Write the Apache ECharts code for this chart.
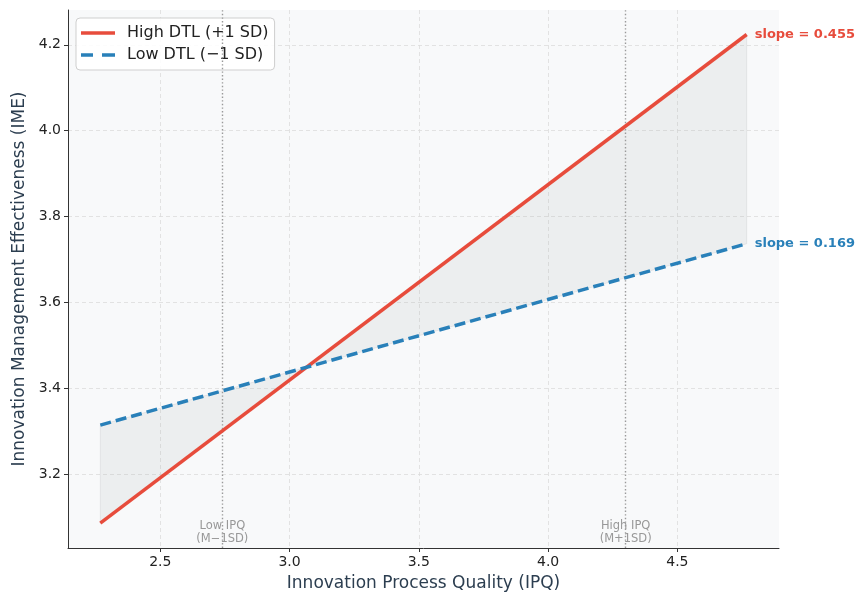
<!DOCTYPE html>
<html><head><meta charset="utf-8">
<script src="https://cdn.jsdelivr.net/npm/echarts@6/dist/echarts.min.js"></script>
<style>html,body{margin:0;padding:0;background:#fff}#c{width:856px;height:597px}</style>
</head><body><div id="c"></div>
<script>
// ---- data ----
const ipqRange = [2.268, 4.768];           // x extent of the simple slopes
const highDTL = [3.087, 4.224];            // IME at ipqRange for High DTL
const lowDTL = [3.315, 3.737];             // IME at ipqRange for Low DTL
const slopes = [0.455, 0.169];
const seriesNames = ['High DTL (+1 SD)', 'Low DTL (\u22121 SD)'];
const refLines = [2.74, 4.30];
const refLabels = ['Low IPQ\n(M\u22121SD)', 'High IPQ\n(M+1SD)'];
const xTicks = [2.5, 3.0, 3.5, 4.0, 4.5];
const yTicks = [3.2, 3.4, 3.6, 3.8, 4.0, 4.2];

const FONT = 'DejaVu Sans';
const X_MIN = 2.143, X_MAX = 4.893, Y_MIN = 3.029, Y_MAX = 4.281;
const RED = '#e74c3c', BLUE = '#2980b9';

const highData = ipqRange.map((x, i) => [x, highDTL[i]]);
const lowData = ipqRange.map((x, i) => [x, lowDTL[i]]);

const chart = echarts.init(document.getElementById('c'), null, {renderer: 'canvas'});
chart.setOption({
  animation: false,
  textStyle: {fontFamily: FONT},
  grid: {left: 68, right: 77, top: 10, bottom: 49, show: true, backgroundColor: '#f8f9fa', borderWidth: 0},
  legend: {
    data: [
      {name: seriesNames[0], icon: 'path://M0,0H34V3H0Z'},
      {name: seriesNames[1], icon: 'path://M0,0H12V3H0Z M21,0H34V3H21Z'}
    ],
    orient: 'vertical', left: 76, top: 18,
    symbolKeepAspect: false,
    backgroundColor: 'rgba(255,255,255,0.9)', borderColor: '#cfcfcf', borderWidth: 1, borderRadius: 4,
    padding: [7, 6, 7, 5], itemGap: 6, itemWidth: 34, itemHeight: 3.5,
    textStyle: {fontFamily: FONT, fontSize: 16, color: '#222', padding: [0, 0, 0, 7]}
  },
  xAxis: {
    type: 'value', min: X_MIN, max: X_MAX,
    name: 'Innovation Process Quality (IPQ)', nameLocation: 'middle', nameGap: 27,
    nameTextStyle: {fontFamily: FONT, fontSize: 17, color: '#2c3e50'},
    axisLine: {show: true, onZero: false, lineStyle: {color: '#333', width: 1}},
    axisTick: {show: true, length: 4, lineStyle: {color: '#333'}, customValues: xTicks},
    axisLabel: {customValues: xTicks, fontFamily: FONT, fontSize: 14, color: '#222', margin: 7,
      formatter: v => v.toFixed(1)},
    splitLine: {show: true, lineStyle: {color: '#dcdcdc', type: [4, 3], width: 0.8}}
  },
  yAxis: {
    type: 'value', min: Y_MIN, max: Y_MAX,
    name: 'Innovation Management Effectiveness (IME)', nameLocation: 'middle', nameGap: 37,
    nameTextStyle: {fontFamily: FONT, fontSize: 17, color: '#2c3e50'},
    axisLine: {show: true, onZero: false, lineStyle: {color: '#333', width: 1}},
    axisTick: {show: true, length: 4, lineStyle: {color: '#333'}, customValues: yTicks},
    axisLabel: {customValues: yTicks, fontFamily: FONT, fontSize: 14, color: '#222', margin: 7,
      formatter: v => v.toFixed(1)},
    splitLine: {show: true, lineStyle: {color: '#dcdcdc', type: [4, 3], width: 0.8}}
  },
  series: [
    {
      type: 'custom', name: 'fill', silent: true, z: 1,
      data: [0],
      renderItem: (params, api) => {
        const pts = [
          api.coord(highData[0]), api.coord(highData[1]),
          api.coord(lowData[1]), api.coord(lowData[0])
        ];
        return {type: 'polygon', shape: {points: pts},
          style: {fill: 'rgba(160,162,168,0.12)', stroke: 'rgba(160,162,168,0.18)', lineWidth: 1}};
      }
    },
    {
      type: 'line', name: 'refs', silent: true, z: 1, data: [],
      markLine: {
        silent: true, symbol: 'none', label: {show: false},
        lineStyle: {color: '#9a9a9a', type: [1.4, 2.2], width: 1.4},
        data: refLines.map(x => ({xAxis: x}))
      }
    },
    {
      type: 'scatter', name: 'refLabels', silent: true, clip: false, z: 3,
      symbolSize: 0,
      data: refLines.map((x, i) => ({value: [x, Y_MIN], label: {formatter: refLabels[i]}})),
      label: {show: true, position: 'top', distance: 2, fontFamily: FONT, fontSize: 11.5,
        color: '#808080', align: 'center', lineHeight: 13}
    },
    {
      type: 'line', name: seriesNames[0], data: highData, symbol: 'none', z: 5,
      lineStyle: {color: RED, width: 3.5}, itemStyle: {color: RED},
      endLabel: {show: true, formatter: 'slope = ' + slopes[0].toFixed(3), color: RED,
        fontFamily: FONT, fontWeight: 'bold', fontSize: 13, distance: 8}
    },
    {
      type: 'line', name: seriesNames[1], data: lowData, symbol: 'none', z: 5,
      lineStyle: {color: BLUE, width: 3.5, type: [11, 5]}, itemStyle: {color: BLUE},
      endLabel: {show: true, formatter: 'slope = ' + slopes[1].toFixed(3), color: BLUE,
        fontFamily: FONT, fontWeight: 'bold', fontSize: 13, distance: 8}
    }
  ]
});
</script></body></html>
